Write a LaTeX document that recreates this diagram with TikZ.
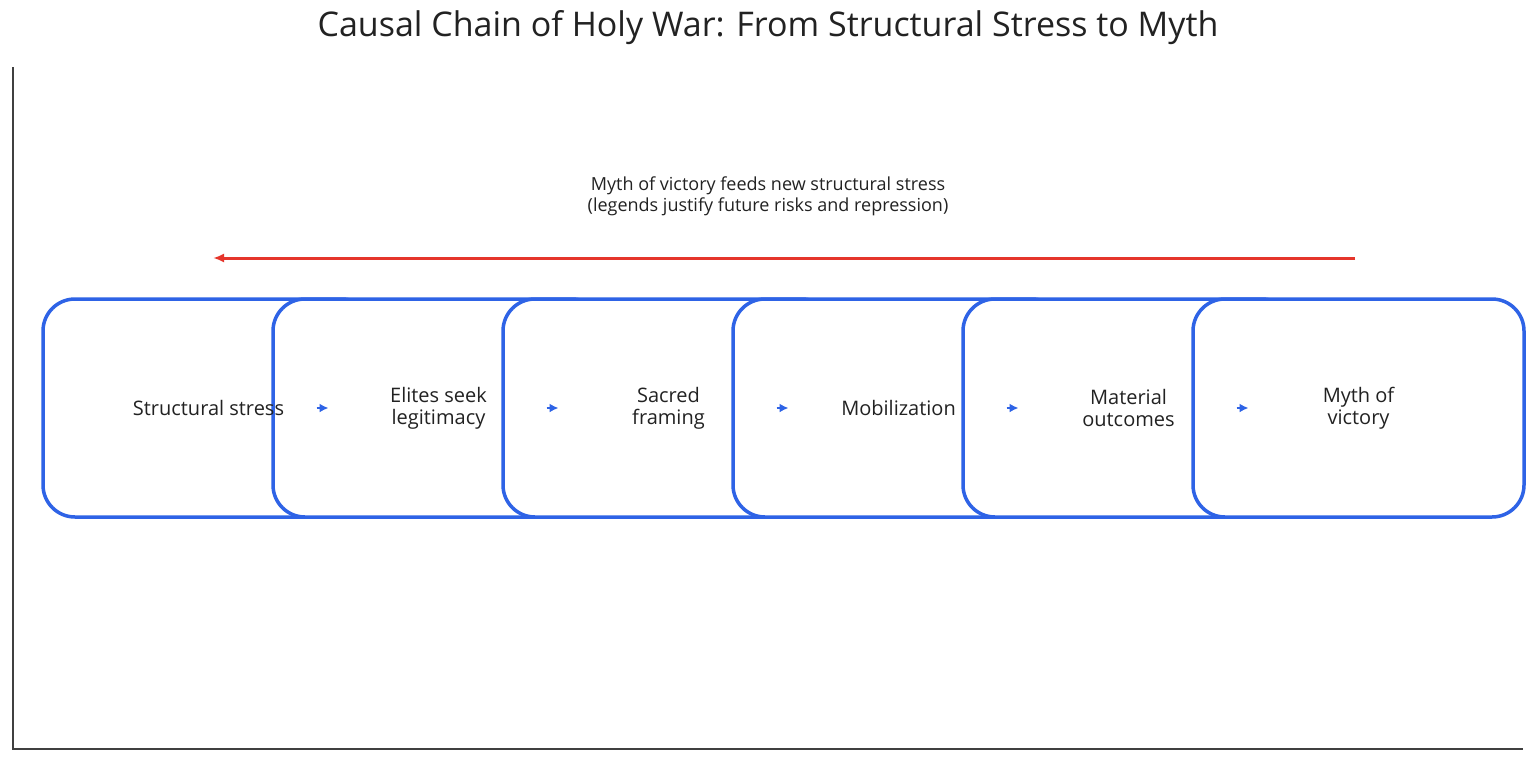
\documentclass[tikz,border=0pt]{standalone}
\usepackage{fontspec}
\setmainfont{Open Sans}
\usetikzlibrary{arrows.meta}
\definecolor{bl}{HTML}{2E63E6}
\definecolor{rd}{HTML}{E5352B}
\definecolor{tx}{HTML}{222222}
\begin{document}
\begin{tikzpicture}[x=1pt,y=-1pt,
  box/.style={draw=bl,fill=white,line width=3.5pt,rounded corners=32pt,minimum width=331pt,minimum height=218pt,anchor=center},
  lbl/.style={text=tx,font=\fontsize{20}{22}\selectfont,align=center},
  steparrow/.style={-{Latex[length=9pt,width=9pt]},draw=bl,line width=2pt}]
\useasboundingbox[fill=white] (0,0) rectangle (1536,763);
\node[font=\fontsize{34}{40}\selectfont,text=tx] (title) at (768,28) {Causal Chain of Holy War: From Structural Stress to Myth};
\coordinate (ytop) at (13,67); \coordinate (org) at (13,749); \coordinate (xend) at (1523,749);
\draw[draw=black!75,line width=1.5pt] (ytop) -- (org) -- (xend);
\foreach \i in {1,...,6}{
  \node[box] (b\i) at ({208.5+230*(\i-1)},408) {};
}
\foreach \i/\t in {1/Structural stress,2/Elites seek\\legitimacy,3/Sacred\\framing,4/Mobilization,5/Material\\outcomes,6/Myth of\\victory}{
  \node[lbl] (t\i) at ({208.5+230*(\i-1)},408) {\t};
}
\foreach \i [evaluate=\i as \x using {208.5+230*(\i-1)}] in {1,...,5}{
  \coordinate (s\i) at (\x+108,408); \coordinate (e\i) at (\x+120,408);
  \draw[steparrow] (s\i) -- (e\i);
}
\coordinate (ra) at (1355,258); \coordinate (rb) at (213,258);
\draw[draw=rd,line width=3pt,-{Latex[length=11pt,width=9pt]}] (ra) -- (rb);
\node[lbl,font=\fontsize{18}{21}\selectfont] (fb) at (768,196) {Myth of victory feeds new structural stress\\(legends justify future risks and repression)};
\end{tikzpicture}
\end{document}
